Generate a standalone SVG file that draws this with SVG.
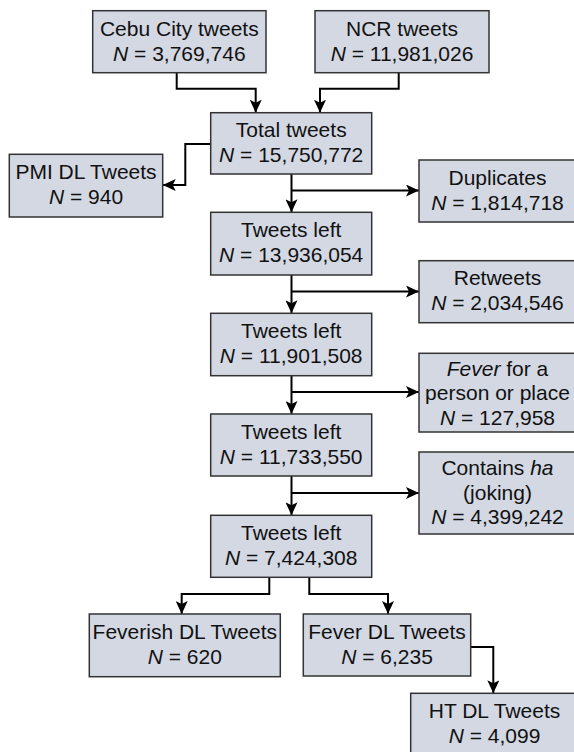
<svg xmlns="http://www.w3.org/2000/svg" width="574" height="752" viewBox="0 0 574 752">
<style>
.box{fill:#d3d8e3;stroke:#333;stroke-width:1.5}
.t{font-family:"Liberation Sans",Arial,sans-serif;font-size:21px;fill:#111;text-anchor:middle}
.c{fill:none;stroke:#000;stroke-width:2}
</style>
<defs>
<marker id="ah" markerUnits="userSpaceOnUse" markerWidth="14" markerHeight="12" viewBox="0 0 14 12" refX="13" refY="6" orient="auto">
<path d="M0,0 L13,6 L0,12 L3,6 Z" fill="#000"/>
</marker>
</defs>
<rect width="574" height="752" fill="#fff"/>
<g id="connectors">
<path class="c" d="M176.7,72.7 V88.7 H255.7 V112.7" marker-end="url(#ah)"/>
<path class="c" d="M398.7,72.7 V88.7 H320 V112.7" marker-end="url(#ah)"/>
<path class="c" d="M210.7,144 H185.3 V185 H162.7" marker-end="url(#ah)"/>
<path class="c" d="M291.5,174 V212.3" marker-end="url(#ah)"/>
<path class="c" d="M291.5,190.5 H419" marker-end="url(#ah)"/>
<path class="c" d="M291.5,275 V313.3" marker-end="url(#ah)"/>
<path class="c" d="M291.5,291.5 H419" marker-end="url(#ah)"/>
<path class="c" d="M291.5,375.7 V414" marker-end="url(#ah)"/>
<path class="c" d="M291.5,392 H419" marker-end="url(#ah)"/>
<path class="c" d="M291.5,476 V515.3" marker-end="url(#ah)"/>
<path class="c" d="M291.5,493 H419" marker-end="url(#ah)"/>
<path class="c" d="M269.3,577.3 V594 H181.7 V614" marker-end="url(#ah)"/>
<path class="c" d="M309.3,577.3 V594 H388 V614" marker-end="url(#ah)"/>
<path class="c" d="M470.7,647 H493.3 V693.3" marker-end="url(#ah)"/>
</g>
<g id="cebu"><rect class="box" x="92.7" y="10.7" width="173.3" height="62"/>
<text class="t" x="179.3" y="35.5">Cebu City tweets</text><text class="t" x="179.3" y="60.5"><tspan font-style="italic">N</tspan> = 3,769,746</text></g>
<g id="ncr"><rect class="box" x="315" y="10.7" width="174" height="62"/>
<text class="t" x="402" y="35.5">NCR tweets</text><text class="t" x="402" y="60.5"><tspan font-style="italic">N</tspan> = 11,981,026</text></g>
<g id="total"><rect class="box" x="210.7" y="112.7" width="161" height="61.3"/>
<text class="t" x="291.2" y="137">Total tweets</text><text class="t" x="291.2" y="162"><tspan font-style="italic">N</tspan> = 15,750,772</text></g>
<g id="pmi"><rect class="box" x="9.3" y="154.3" width="153.4" height="62.7"/>
<text class="t" x="86" y="179">PMI DL Tweets</text><text class="t" x="86" y="204"><tspan font-style="italic">N</tspan> = 940</text></g>
<g id="duplicates"><rect class="box" x="419" y="160" width="158" height="62"/>
<text class="t" x="497.5" y="184.5">Duplicates</text><text class="t" x="497.5" y="209.5"><tspan font-style="italic">N</tspan> = 1,814,718</text></g>
<g id="left1"><rect class="box" x="210.7" y="212.3" width="161" height="62.7"/>
<text class="t" x="291.2" y="237">Tweets left</text><text class="t" x="291.2" y="262"><tspan font-style="italic">N</tspan> = 13,936,054</text></g>
<g id="retweets"><rect class="box" x="419" y="260.7" width="158" height="62"/>
<text class="t" x="497.5" y="285.2">Retweets</text><text class="t" x="497.5" y="310.2"><tspan font-style="italic">N</tspan> = 2,034,546</text></g>
<g id="left2"><rect class="box" x="210.7" y="313.3" width="161" height="62.4"/>
<text class="t" x="291.2" y="338">Tweets left</text><text class="t" x="291.2" y="363"><tspan font-style="italic">N</tspan> = 11,901,508</text></g>
<g id="fever"><rect class="box" x="419" y="353.3" width="158" height="78.7"/>
<text class="t" x="497.5" y="375.5"><tspan font-style="italic">Fever</tspan> for a</text><text class="t" x="497.5" y="400">person or place</text><text class="t" x="497.5" y="424.5"><tspan font-style="italic">N</tspan> = 127,958</text></g>
<g id="left3"><rect class="box" x="210.7" y="414" width="161" height="62"/>
<text class="t" x="291.2" y="438.5">Tweets left</text><text class="t" x="291.2" y="463.5"><tspan font-style="italic">N</tspan> = 11,733,550</text></g>
<g id="contains"><rect class="box" x="419" y="452" width="158" height="82"/>
<text class="t" x="497.5" y="475">Contains <tspan font-style="italic">ha</tspan></text><text class="t" x="497.5" y="499.5">(joking)</text><text class="t" x="497.5" y="524">
<tspan font-style="italic">N</tspan> = 4,399,242</text></g>
<g id="left4"><rect class="box" x="210.7" y="515.3" width="161" height="62"/>
<text class="t" x="291.2" y="540">Tweets left</text><text class="t" x="291.2" y="565"><tspan font-style="italic">N</tspan> = 7,424,308</text></g>
<g id="feverish"><rect class="box" x="89.3" y="614" width="191" height="62.7"/>
<text class="t" x="184.8" y="638.5">Feverish DL Tweets</text><text class="t" x="184.8" y="663.5"><tspan font-style="italic">N</tspan> = 620</text></g>
<g id="feverdl"><rect class="box" x="303.3" y="614" width="167.4" height="62"/>
<text class="t" x="387" y="638.5">Fever DL Tweets</text><text class="t" x="387" y="663.5"><tspan font-style="italic">N</tspan> = 6,235</text></g>
<g id="ht"><rect class="box" x="410.7" y="693.3" width="168" height="65"/>
<text class="t" x="494.5" y="718">HT DL Tweets</text><text class="t" x="494.5" y="743"><tspan font-style="italic">N</tspan> = 4,099</text></g>
</svg>
